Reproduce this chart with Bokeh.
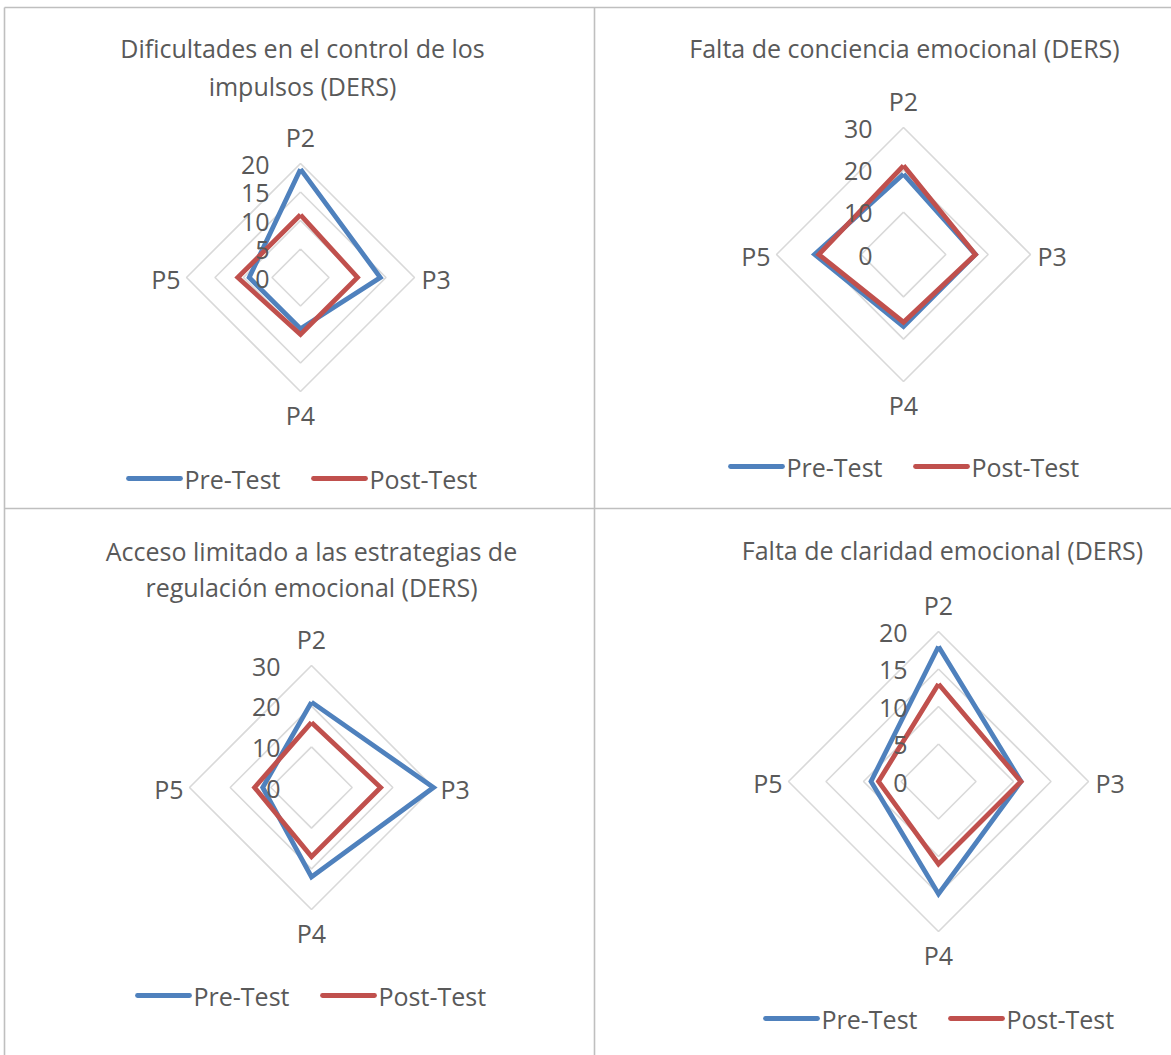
from bokeh.plotting import figure
from bokeh.models import Range1d
from bokeh.core.properties import value
from bokeh.embed import file_html
from bokeh.resources import INLINE

# ---------------- data ----------------
categories = ["P2", "P3", "P4", "P5"]
series_names = ["Pre-Test", "Post-Test"]
series_colors = ["#4F81BD", "#C0504D"]

titles = [
    ["Dificultades en el control de los", "impulsos (DERS)"],
    ["Falta de conciencia emocional (DERS)"],
    ["Acceso limitado a las estrategias de", "regulación emocional (DERS)"],
    ["Falta de claridad emocional (DERS)"],
]

ticks_c1 = [0, 5, 10, 15, 20]
ticks_c2 = [0, 10, 20, 30]
ticks_c3 = [0, 10, 20, 30]
ticks_c4 = [0, 5, 10, 15, 20]

pre_c1 = [19, 14, 9, 9]
post_c1 = [11, 10, 10, 11]
pre_c2 = [19, 17, 17, 21]
post_c2 = [21, 17, 16, 20]
pre_c3 = [21, 30, 22, 12]
post_c3 = [16, 17, 17, 14]
pre_c4 = [18, 11, 15, 9]
post_c4 = [13, 11, 11, 8]

charts = [
    dict(title=titles[0], ticks=ticks_c1, series=[pre_c1, post_c1]),
    dict(title=titles[1], ticks=ticks_c2, series=[pre_c2, post_c2]),
    dict(title=titles[2], ticks=ticks_c3, series=[pre_c3, post_c3]),
    dict(title=titles[3], ticks=ticks_c4, series=[pre_c4, post_c4]),
]

# ---------------- layout (pixels) ----------------
W, H = 1171, 1055
layout = [
    dict(cx=300, cy=277, r=114, tx=302, ty=[47, 85], ly=478, lx=128),
    dict(cx=903, cy=254, r=127, tx=904, ty=[47], ly=466, lx=730),
    dict(cx=311, cy=787, r=122, tx=311, ty=[550, 586], ly=995, lx=137),
    dict(cx=938, cy=781, r=150, tx=942, ty=[549], ly=1018, lx=765),
]

FONT = value("Open Sans")
FS = "25px"
TXT = "#595959"
GRID = "#D9D9D9"
BORDER = "#BFBFBF"

p = figure(width=W, height=H, output_backend="svg", toolbar_location=None,
           x_range=Range1d(0, W), y_range=Range1d(H, 0), min_border=0,
           outline_line_color=None)
p.axis.visible = False
p.grid.visible = False
p.background_fill_color = "white"
p.border_fill_color = "white"

# table borders
p.segment(x0=[4, 4, 594, 4], y0=[7, 7, 7, 508], x1=[W, 4, 594, W], y1=[7, H, H, 508],
          line_color=BORDER, line_width=1.6)

def dirs(v):
    # P2 up, P3 right, P4 down, P5 left
    return [0, v[1], 0, -v[3]], [v[0], 0, -v[2], 0]

for i, (ch, lay) in enumerate(zip(charts, layout)):
    vmax = ch["ticks"][-1]
    cx, cy, r = lay["cx"], lay["cy"], lay["r"]
    xn, yn = f"x{i}", f"y{i}"
    p.extra_x_ranges[xn] = Range1d((0 - cx) * vmax / r, (W - cx) * vmax / r)
    p.extra_y_ranges[yn] = Range1d((cy - H) * vmax / r, cy * vmax / r)

    # rings
    xs, ys = [], []
    for t in ch["ticks"]:
        if t == 0:
            continue
        xs.append([0, t, 0, -t, 0])
        ys.append([t, 0, -t, 0, t])
    p.multi_line(xs, ys, line_color=GRID, line_width=1.6,
                 x_range_name=xn, y_range_name=yn)

    # series
    for vals, col in zip(ch["series"], series_colors):
        x, y = dirs(vals)
        p.line(x + [x[0]], y + [y[0]], line_color=col, line_width=4.8,
               line_join="miter", x_range_name=xn, y_range_name=yn)

    # tick labels
    p.text(x=[0] * len(ch["ticks"]), y=ch["ticks"], text=[str(t) for t in ch["ticks"]],
           x_offset=-31, y_offset=1, text_align="right", text_baseline="middle",
           text_font=FONT, text_font_size=FS, text_color=TXT,
           x_range_name=xn, y_range_name=yn)

    # category labels
    p.text(x=[0], y=[vmax], text=[categories[0]], y_offset=-27, text_align="center",
           text_baseline="middle", text_font=FONT, text_font_size=FS, text_color=TXT,
           x_range_name=xn, y_range_name=yn)
    p.text(x=[vmax], y=[0], text=[categories[1]], x_offset=7, y_offset=1, text_align="left",
           text_baseline="middle", text_font=FONT, text_font_size=FS, text_color=TXT,
           x_range_name=xn, y_range_name=yn)
    p.text(x=[0], y=[-vmax], text=[categories[2]], y_offset=23, text_align="center",
           text_baseline="middle", text_font=FONT, text_font_size=FS, text_color=TXT,
           x_range_name=xn, y_range_name=yn)
    p.text(x=[-vmax], y=[0], text=[categories[3]], x_offset=-6, y_offset=1, text_align="right",
           text_baseline="middle", text_font=FONT, text_font_size=FS, text_color=TXT,
           x_range_name=xn, y_range_name=yn)

    # title
    p.text(x=[lay["tx"]] * len(ch["title"]), y=lay["ty"], text=ch["title"],
           text_align="center", text_baseline="middle", text_font=FONT,
           text_font_size=FS, text_color=TXT)

    # legend
    for k, (name, col) in enumerate(zip(series_names, series_colors)):
        x0 = lay["lx"] + 185 * k
        p.segment(x0=[x0], y0=[lay["ly"]], x1=[x0 + 52], y1=[lay["ly"]],
                  line_color=col, line_width=4.8, line_cap="round")
        p.text(x=[x0 + 56], y=[lay["ly"]], text=[name], text_align="left",
               text_baseline="middle", text_font=FONT, text_font_size=FS,
               text_color=TXT)

open("out.html", "w").write(file_html(p, INLINE))
